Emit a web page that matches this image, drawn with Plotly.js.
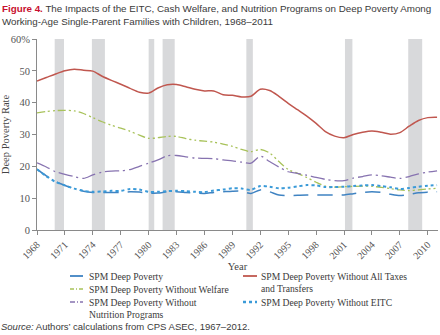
<!DOCTYPE html>
<html><head><meta charset="utf-8">
<script src="https://cdn.plot.ly/plotly-3.0.1.min.js"></script>
<style>html,body{margin:0;padding:0;background:#fff}#c{width:440px;height:335px}</style>
</head><body><div id="c"></div>
<script>
const years = [1968,1969,1970,1971,1972,1973,1974,1975,1976,1977,1978,1979,1980,1981,1982,1983,1984,1985,1986,1987,1988,1989,1990,1991,1992,1993,1994,1995,1996,1997,1998,1999,2000,2001,2002,2003,2004,2005,2006,2007,2008,2009,2010,2011];
const spmDeep = [19.1,17.0,15.2,14.0,13.0,12.2,11.8,11.8,11.8,11.8,12.0,11.9,11.6,11.6,12.0,12.0,11.8,11.6,11.5,11.8,12.0,12.2,12.2,11.5,12.6,12.0,11.0,10.8,10.9,11.0,11.0,11.0,11.0,11.0,11.4,11.8,12.0,11.8,11.2,10.8,11.2,11.7,11.9,12.0];
const noTaxesTransfers = [46.8,47.9,49.0,50.0,50.5,50.2,49.9,48.3,47.0,45.8,44.5,43.3,43.0,44.6,45.6,45.7,45.0,44.2,43.7,43.7,42.5,42.3,41.8,42.0,44.2,43.8,42.0,39.8,37.8,35.8,33.5,30.9,29.5,29.0,30.0,30.7,31.1,30.7,30.1,30.6,32.6,34.4,35.3,35.4];
const noWelfare = [36.8,37.2,37.5,37.6,37.4,36.6,35.3,34.0,32.9,32.0,31.0,29.8,28.8,29.0,29.4,29.4,28.7,28.2,27.9,27.6,27.0,26.3,25.3,24.6,25.3,24.2,21.5,19.0,17.8,16.5,15.0,13.8,13.5,13.6,13.7,13.8,13.7,13.4,13.0,12.6,12.4,12.6,12.9,13.1];
const noNutrition = [21.1,19.8,18.3,17.5,16.8,16.2,17.3,18.2,18.5,18.6,19.0,20.0,21.0,22.0,23.3,23.4,23.0,22.6,22.5,22.4,22.0,21.7,21.3,21.0,23.2,21.5,19.8,18.3,17.8,17.2,16.5,15.9,15.5,15.5,16.3,16.8,17.3,17.0,16.6,16.2,16.8,17.6,18.2,18.6];
const noEITC = [19.1,16.9,15.1,14.0,13.0,12.3,12.0,12.1,12.3,12.3,12.9,12.7,12.0,12.0,12.2,12.3,12.2,12.0,11.9,12.4,12.7,13.1,13.0,12.6,13.8,13.6,13.1,13.3,13.7,14.1,14.0,13.5,13.5,13.6,13.8,14.0,14.1,13.8,13.4,12.9,13.2,13.6,13.9,14.1];
const recessions = [[1969.9,1970.9],[1973.9,1975.3],[1980.0,1980.6],[1981.5,1982.8],[1990.5,1991.2],[2001.1,2001.9],[2007.9,2009.4]];
const xTicks = [1968,1971,1974,1977,1980,1983,1986,1989,1992,1995,1998,2001,2004,2007,2010];
const yTicks = [0,10,20,30,40,50,60];
const yTickText = ["0","10","20","30","40","50","60%"];
const seriesNames = ["SPM Deep Poverty","SPM Deep Poverty Without Welfare","SPM Deep Poverty Without<br>Nutrition Programs","SPM Deep Poverty Without All Taxes<br>and Transfers","SPM Deep Poverty Without EITC"];

const serif = "Liberation Serif, DejaVu Serif, serif";
const sans = "Liberation Sans, Arial, sans-serif";
const sm = 0.8;
const styles = [
  {color:"#3f83c2",width:1.5,dash:"15px,9px"},
  {color:"#a8c25a",width:1.3,dash:"8px,3px,2px,3px,2px,3px"},
  {color:"#8773b0",width:1.3,dash:"14px,4px,2px,4px"},
  {color:"#c0574f",width:1.5,dash:"solid"},
  {color:"#3a9ad8",width:2,dash:"dot"}
];
const data = [spmDeep,noWelfare,noNutrition,noTaxesTransfers,noEITC];
const traces = data.map((d,i)=>({x:years,y:d,name:seriesNames[i],mode:"lines",showlegend:false,
  line:Object.assign({shape:"spline",smoothing:sm},styles[i])}));

const W=401,H=191;
const px=v=>(v-37)/W, py=v=>(230-v)/H;
const shapes = recessions.map(r=>({type:"rect",xref:"x",yref:"paper",x0:r[0],x1:r[1],y0:0,y1:1,fillcolor:"#d8d9db",line:{width:0},layer:"below"}));
// legend key positions (pixel): [sampleX0, sampleX1, textX, yCenter]
const legPos = [[70,83,88,276],[70,83,88,289],[70,83,88,302],[243,257,260,276],[243,257,260,302]];
const keyDash = ["solid","4px,2px,1px,2px","5px,2px,1px,2px","solid","dot"];
const annotations = [];
legPos.forEach((p,i)=>{
  shapes.push({type:"line",xref:"paper",yref:"paper",x0:px(p[0]),x1:px(p[1]),y0:py(p[3]),y1:py(p[3]),
    line:{color:styles[i].color,width:styles[i].width+0.3,dash:keyDash[i]}});
  annotations.push({xref:"paper",yref:"paper",x:px(p[2]),y:py(p[3]-6),xanchor:"left",yanchor:"top",showarrow:false,align:"left",
    text:seriesNames[i],font:{family:serif,size:9.6,color:"#3a3a3a"},borderpad:0});
});
annotations.push({xref:"paper",yref:"paper",x:px(0),y:py(0.5),xanchor:"left",yanchor:"top",showarrow:false,align:"left",
  text:"<b><span style='color:#c8102e'>Figure 4.</span></b> The Impacts of the EITC, Cash Welfare, and Nutrition Programs on Deep Poverty Among<br>Working-Age Single-Parent Families with Children, 1968–2011",
  font:{family:sans,size:9.8,color:"#3a3a3a"}});
annotations.push({xref:"paper",yref:"paper",x:px(0),y:py(320),xanchor:"left",yanchor:"top",showarrow:false,align:"left",
  text:"<i>Source:</i> Authors’ calculations from CPS ASEC, 1967–2012.",font:{family:sans,size:9.5,color:"#3a3a3a"},borderpad:0});

const layout = {
  width:440,height:335,
  margin:{l:37,r:2,t:39,b:105},
  paper_bgcolor:"#fff",plot_bgcolor:"#fff",
  showlegend:false,
  xaxis:{range:[1968,2011.1],tickvals:xTicks,tickangle:-45,showgrid:false,zeroline:false,showline:true,linecolor:"#8a8a8a",linewidth:1,
    ticks:"outside",ticklen:4,tickcolor:"#8a8a8a",tickfont:{family:serif,size:10,color:"#555"},
    title:{text:"Year",font:{family:serif,size:10.5,color:"#444"},standoff:1}},
  yaxis:{range:[0,60],tickvals:yTicks,ticktext:yTickText,showgrid:false,zeroline:false,showline:true,linecolor:"#8a8a8a",linewidth:1,
    ticks:"outside",ticklen:4,tickcolor:"#8a8a8a",tickfont:{family:serif,size:10.5,color:"#555"},
    title:{text:"Deep Poverty Rate",font:{family:serif,size:10.5,color:"#444"},standoff:9}},
  shapes:shapes,
  annotations:annotations
};
Plotly.newPlot("c",traces,layout,{displayModeBar:false,staticPlot:true});
</script></body></html>
